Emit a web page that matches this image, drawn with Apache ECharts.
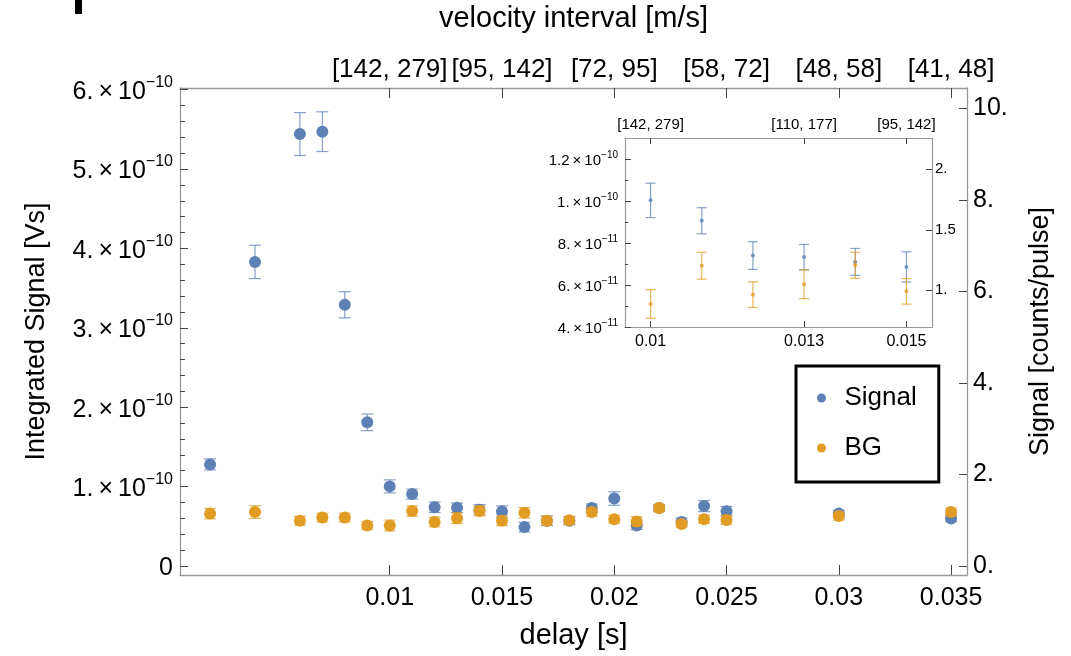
<!DOCTYPE html>
<html>
<head>
<meta charset="utf-8">
<script src="https://cdn.jsdelivr.net/npm/echarts@6/dist/echarts.min.js"></script>
<style>
html,body{margin:0;padding:0;background:#fff;}
#chart{width:1071px;height:656px;}
</style>
</head>
<body>
<div id="chart"></div>
<script>
// delay [s]
const delay = [0.002,0.004,0.006,0.007,0.008,0.009,0.010,0.011,0.012,0.013,0.014,0.015,0.016,0.017,0.018,0.019,0.020,0.021,0.022,0.023,0.024,0.025,0.030,0.035];
// Integrated signal, in units of 1e-10 Vs
const signal    = [1.28,3.83,5.44,5.47,3.29,1.81,1.003,0.906,0.740,0.733,0.710,0.686,0.49,0.57,0.57,0.73,0.85,0.51,0.73,0.555,0.755,0.69,0.66,0.60];
const signalErr = [0.07,0.21,0.27,0.25,0.165,0.105,0.082,0.062,0.066,0.060,0.064,0.072,0.06,0.06,0.05,0.05,0.085,0.05,0.04,0.05,0.07,0.06,0.04,0.04];
const bg        = [0.66,0.68,0.57,0.61,0.61,0.51,0.510,0.692,0.554,0.603,0.694,0.570,0.67,0.57,0.575,0.68,0.59,0.56,0.73,0.53,0.59,0.58,0.63,0.68];
const bgErr     = [0.065,0.08,0.055,0.055,0.055,0.05,0.068,0.064,0.061,0.068,0.062,0.061,0.065,0.055,0.05,0.055,0.05,0.06,0.045,0.04,0.05,0.055,0.05,0.05];

// tick values / labels
const xTicks = [0.01,0.015,0.02,0.025,0.03,0.035];
const velocityLabels = ['[142, 279]','[95, 142]','[72, 95]','[58, 72]','[48, 58]','[41, 48]'];
const yLeftTicks = [0,1,2,3,4,5,6];
const yLeftMinor = [0.2,0.4,0.6,0.8,1.2,1.4,1.6,1.8,2.2,2.4,2.6,2.8,3.2,3.4,3.6,3.8,4.2,4.4,4.6,4.8,5.2,5.4,5.6,5.8];
const yRightTicks = [0,2,4,6,8,10];
const insetXTicks = [0.01,0.013,0.015];
const insetVelocityLabels = ['[142, 279]','[110, 177]','[95, 142]'];
const insetYTicks = [0.4,0.6,0.8,1.0,1.2];
const insetYMinor = [0.5,0.7,0.9,1.1];
const insetRightTicks = [1,1.5,2];

const FONT = "'Liberation Sans', Arial, Helvetica, sans-serif";
const BLUE = '#5E81B5', ORANGE = '#E19C24';
const AXIS_C = '#999', TICK_C = '#444';

function pts(v){ return delay.map((d,i)=>[d, v[i]]); }
function errPts(v,e){ return delay.map((d,i)=>[d, v[i], e[i]]); }

function sci(v){
  if (Math.abs(v) < 1e-9) return '{b|0}';
  const real = v*1e-10;
  const exp = Math.floor(Math.log10(real)+1e-9);
  let m = Math.round(real/Math.pow(10,exp)*10)/10;
  const ms = Number.isInteger(m) ? m + '.' : String(m);
  return '{b|' + ms + '\u2009\u00d7\u200910}{s|\u2212' + (-exp) + '}';
}
function dotNum(v){ v = Math.round(v*100)/100; return Number.isInteger(v) ? v + '.' : String(v); }
function xFmt(v){ return String(parseFloat(v.toFixed(4))); }
function lookup(vals, labels){ return function(v){ for (let i=0;i<vals.length;i++){ if (Math.abs(vals[i]-v)<1e-7) return labels[i]; } return ''; }; }

function errRender(capW, color){
  return function(params, api){
    const x = api.value(0), y = api.value(1), e = api.value(2);
    const t = api.coord([x, y+e]);
    const b = api.coord([x, y-e]);
    const h = capW/2;
    const st = {stroke: color, lineWidth: 1.2};
    return {type:'group', children:[
      {type:'line', shape:{x1:t[0],y1:t[1],x2:b[0],y2:b[1]}, style:st},
      {type:'line', shape:{x1:t[0]-h,y1:t[1],x2:t[0]+h,y2:t[1]}, style:st},
      {type:'line', shape:{x1:b[0]-h,y1:b[1],x2:b[0]+h,y2:b[1]}, style:st}
    ]};
  };
}

const mainRich = {b:{fontSize:25, color:'#000', fontFamily:FONT, lineHeight:30, verticalAlign:'bottom'}, s:{fontSize:16, color:'#000', fontFamily:FONT, lineHeight:16, verticalAlign:'top'}};
const insetRich = {b:{fontSize:15, color:'#000', fontFamily:FONT, lineHeight:18, verticalAlign:'bottom'}, s:{fontSize:10, color:'#000', fontFamily:FONT, lineHeight:10, verticalAlign:'top'}};

function line(w){ return {show:true, onZero:false, lineStyle:{color:AXIS_C, width:w}}; }

const chart = echarts.init(document.getElementById('chart'), null, {renderer:'canvas'});
const option = {
  animation:false,
  backgroundColor:'#fff',
  textStyle:{fontFamily:FONT},
  grid:[
    {left:180, top:88, width:787, height:487, outerBoundsMode:'none', containLabel:false},
    {left:625, top:138, width:307, height:189, show:true, backgroundColor:'#fff', borderWidth:0, outerBoundsMode:'none', containLabel:false}
  ],
  legend:{
    data:[{name:'Signal',icon:'circle'},{name:'BG',icon:'circle'}],
    orient:'vertical', left:796, top:366,
    itemWidth:36, itemHeight:9, itemGap:24,
    padding:[19,22,21,21],
    borderColor:'#000', borderWidth:3,
    textStyle:{fontSize:26, color:'#000', fontFamily:FONT}
  },
  xAxis:[
    {gridIndex:0, type:'value', position:'bottom', min:0.00066, max:0.03571,
     axisLine:line(1.3),
     axisTick:{inside:true, length:10, customValues:xTicks, lineStyle:{color:TICK_C}},
     axisLabel:{customValues:xTicks, formatter:xFmt, fontSize:25, color:'#000', margin:11},
     splitLine:{show:false},
     name:'delay [s]', nameLocation:'middle', nameGap:46, nameMoveOverlap:false, nameTextStyle:{fontSize:29, color:'#000'}},
    {gridIndex:0, type:'value', position:'top', min:0.00066, max:0.03571,
     axisLine:line(1.3),
     axisTick:{inside:true, length:10, customValues:xTicks, lineStyle:{color:TICK_C}},
     axisLabel:{customValues:xTicks, formatter:lookup(xTicks, velocityLabels), fontSize:26, color:'#000', margin:5},
     splitLine:{show:false},
     name:'velocity interval [m/s]', nameLocation:'middle', nameGap:55, nameMoveOverlap:false, nameTextStyle:{fontSize:29, color:'#000'}},
    {gridIndex:1, type:'value', position:'bottom', min:0.0095, max:0.0155,
     axisLine:line(1.2),
     axisTick:{inside:true, length:6, customValues:insetXTicks, lineStyle:{color:TICK_C}},
     axisLabel:{customValues:insetXTicks, formatter:xFmt, fontSize:16, color:'#000', margin:7},
     splitLine:{show:false}},
    {gridIndex:1, type:'value', position:'top', min:0.0095, max:0.0155,
     axisLine:line(1.2),
     axisTick:{inside:true, length:6, customValues:insetXTicks, lineStyle:{color:TICK_C}},
     axisLabel:{customValues:insetXTicks, formatter:lookup(insetXTicks, insetVelocityLabels), fontSize:15, color:'#000', margin:6},
     splitLine:{show:false}}
  ],
  yAxis:[
    {gridIndex:0, type:'value', position:'left', min:-0.113, max:6.02,
     axisLine:line(1.3),
     axisTick:{show:true, inside:true, length:8, customValues:yLeftTicks, lineStyle:{color:TICK_C}},
     axisLabel:{customValues:yLeftTicks, formatter:sci, rich:mainRich, margin:7},
     splitLine:{show:false},
     name:'Integrated Signal [Vs]', nameLocation:'middle', nameGap:130, nameRotate:90, nameMoveOverlap:false, nameTextStyle:{fontSize:27, color:'#000'}},
    {gridIndex:0, type:'value', position:'right', min:-0.197, max:10.45,
     axisLine:line(1.3),
     axisTick:{show:true, inside:true, length:8, customValues:yRightTicks, lineStyle:{color:TICK_C}},
     axisLabel:{customValues:yRightTicks, formatter:dotNum, fontSize:25, color:'#000', margin:6},
     splitLine:{show:false},
     name:'Signal [counts/pulse]', nameLocation:'middle', nameGap:60, nameRotate:90, nameMoveOverlap:false, nameTextStyle:{fontSize:27, color:'#000'}},
    {gridIndex:0, type:'value', position:'left', min:-0.113, max:6.02,
     axisLine:{show:false, onZero:false},
     axisTick:{show:true, inside:true, length:5, customValues:yLeftMinor, lineStyle:{color:TICK_C}},
     axisLabel:{show:false}, splitLine:{show:false}},
    {gridIndex:1, type:'value', position:'left', min:0.4, max:1.3,
     axisLine:line(1.2),
     axisTick:{show:true, inside:true, length:6, customValues:insetYTicks, lineStyle:{color:TICK_C}},
     axisLabel:{customValues:insetYTicks, formatter:sci, rich:insetRich, margin:7},
     splitLine:{show:false}},
    {gridIndex:1, type:'value', position:'left', min:0.4, max:1.3,
     axisLine:{show:false, onZero:false},
     axisTick:{show:true, inside:true, length:3, customValues:insetYMinor, lineStyle:{color:TICK_C}},
     axisLabel:{show:false}, splitLine:{show:false}},
    {gridIndex:1, type:'value', position:'right', min:0.697, max:2.259,
     axisLine:line(1.2),
     axisTick:{show:true, inside:true, length:6, customValues:insetRightTicks, lineStyle:{color:TICK_C}},
     axisLabel:{customValues:insetRightTicks, formatter:dotNum, fontSize:15, color:'#000', margin:3},
     splitLine:{show:false}}
  ],
  series:[
    {name:'Signal', type:'scatter', xAxisIndex:0, yAxisIndex:0, data:pts(signal), symbolSize:12, itemStyle:{color:BLUE, opacity:1}, z:4},
    {name:'BG', type:'scatter', xAxisIndex:0, yAxisIndex:0, data:pts(bg), symbolSize:12, itemStyle:{color:ORANGE, opacity:1}, z:6},
    {name:'Signal err', type:'custom', xAxisIndex:0, yAxisIndex:0, data:errPts(signal, signalErr), renderItem:errRender(12, 'rgba(94,129,181,0.75)'), encode:{x:0,y:1}, z:3, silent:true},
    {name:'BG err', type:'custom', xAxisIndex:0, yAxisIndex:0, data:errPts(bg, bgErr), renderItem:errRender(12, 'rgba(225,156,36,0.75)'), encode:{x:0,y:1}, z:5, silent:true},
    {name:'Signal inset err', type:'custom', xAxisIndex:2, yAxisIndex:3, data:errPts(signal, signalErr), renderItem:errRender(10, 'rgba(94,129,181,0.75)'), encode:{x:0,y:1}, clip:true, z:3, silent:true},
    {name:'BG inset err', type:'custom', xAxisIndex:2, yAxisIndex:3, data:errPts(bg, bgErr), renderItem:errRender(10, 'rgba(225,156,36,0.75)'), encode:{x:0,y:1}, clip:true, z:5, silent:true},
    {name:'Signal inset', type:'scatter', xAxisIndex:2, yAxisIndex:3, data:pts(signal), symbolSize:4, itemStyle:{color:BLUE}, clip:true, z:4},
    {name:'BG inset', type:'scatter', xAxisIndex:2, yAxisIndex:3, data:pts(bg), symbolSize:4, itemStyle:{color:ORANGE}, clip:true, z:6}
  ],
  graphic:[
    {type:'rect', left:75, top:0, shape:{width:7, height:14}, style:{fill:'#000'}}
  ]
};
chart.setOption(option);
</script>
</body>
</html>
